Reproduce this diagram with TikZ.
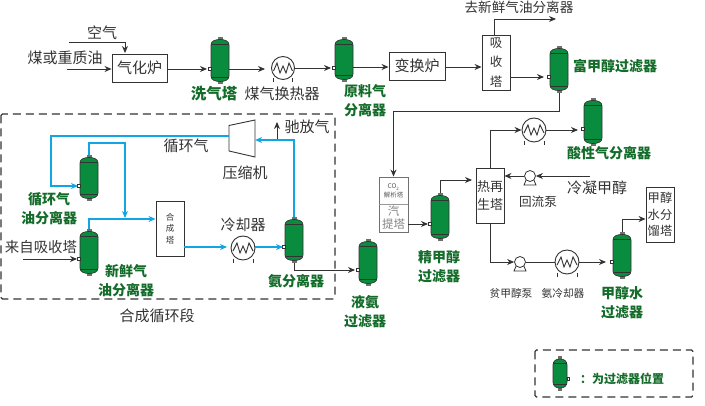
\documentclass[tikz,border=0pt]{standalone}
\usepackage{fontspec}
\setmainfont{Noto Sans CJK SC}
\usetikzlibrary{arrows.meta,calc}
\definecolor{ink}{HTML}{333333}
\definecolor{vgreen}{HTML}{0A8C3E}
\definecolor{lgreen}{HTML}{146C2A}
\definecolor{flow}{HTML}{12A5E4}
\tikzset{x=1pt,y=-1pt,
 flowk/.style={draw=ink,line width=0.9pt,-{Stealth[length=7pt,width=6pt]}},
 flowb/.style={draw=flow,line width=1.1pt,-{Stealth[length=7pt,width=6pt]}},
 boxn/.style={draw=ink,line width=0.9pt,fill=white,inner sep=0pt,align=center,font=\fontsize{15}{17}\selectfont,text=ink},
 txt/.style={inner sep=0pt,text=ink,font=\fontsize{15}{18}\selectfont,align=center},
 smalltxt/.style={inner sep=0pt,text=ink,font=\fontsize{10.7}{15}\selectfont,align=center},
 lab/.style={inner sep=0pt,text=lgreen,font=\fontsize{14}{19}\selectfont\bfseries,align=center},
 frame/.style={draw=ink,line width=1.1pt,dash pattern=on 8pt off 5pt,rounded corners=1.5pt}}
% name, x centre, y top, y bottom
\newcommand\vessel[4]{%
 \fill[ink!70] (#2-2.5,#3) rectangle (#2+2.5,#3+4);
 \fill[ink!70] (#2-2.5,#4-4) rectangle (#2+2.5,#4);
 \draw[draw=ink,line width=0.7pt,fill=vgreen]
   (#2-9,#3+8) .. controls (#2-9,#3+4) and (#2-5,#3+2.5) .. (#2,#3+2.5)
   .. controls (#2+5,#3+2.5) and (#2+9,#3+4) .. (#2+9,#3+8)
   -- (#2+9,#4-8) .. controls (#2+9,#4-4) and (#2+5,#4-2.5) .. (#2,#4-2.5)
   .. controls (#2-5,#4-2.5) and (#2-9,#4-4) .. (#2-9,#4-8) -- cycle;
 \draw[ink,line width=0.5pt] (#2-9,#3+7) -- (#2+9,#3+7) (#2-9,#4-7) -- (#2+9,#4-7);
 \node[inner sep=0pt,minimum width=18pt,minimum height=#4-#3] (#1) at (#2,{(#3+#4)/2}) {};
}
\newcommand\nozzle[2]{\draw[ink,line width=0.7pt,fill=white] (#1-11.5,#2-1.5) rectangle (#1-9,#2+1.5);}
% name, x, y, radius
\newcommand\exch[4]{%
 \node[circle,draw=ink,line width=0.9pt,fill=white,inner sep=0pt,minimum size=2*#4] (#1) at (#2,#3) {};
 \draw[ink,line width=0.9pt] (#2-#4+2,#3+#4-1) -- (#2-#4+2,#3+#4+3) (#2+#4-2,#3+#4-1) -- (#2+#4-2,#3+#4+3);
 \draw[ink,line width=0.9pt] (#2-#4+2,#3+3) -- (#2-6,#3-5) -- (#2-3,#3+5) -- (#2,#3-2) -- (#2+3,#3+5) -- (#2+6,#3-5) -- (#2+#4-2,#3+3);
}
\newcommand\pump[3]{%
 \draw[ink,line width=0.8pt,fill=white] (#2-6,#3+9) -- (#2-3,#3+2) -- (#2+3,#3+2) -- (#2+6,#3+9) -- cycle;
 \node[circle,draw=ink,line width=0.8pt,fill=white,inner sep=0pt,minimum size=11pt] (#1) at (#2,#3) {};
}
\begin{document}
\begin{tikzpicture}
\useasboundingbox (0,0) rectangle (705,406);
% frames
\draw[frame] (1,114) rectangle (335,299);
\draw[frame] (535,350) rectangle (693,397);
% vessels
\vessel{vx}{220}{37}{84}\nozzle{220}{69}
\vessel{vy}{344}{37}{82}\nozzle{344}{68}
\vessel{vf}{559}{46}{93}\nozzle{559}{77}
\vessel{vs}{593}{98}{146}\nozzle{593}{129}
\vessel{vj}{440}{193}{241}\nozzle{440}{224}
\vessel{vw}{622}{232}{279}\nozzle{622}{262}
\vessel{vl}{368}{239}{286}\nozzle{368}{270}
\vessel{vc}{89}{155}{201}\nozzle{89}{186}
\vessel{vn}{89}{229}{276}\nozzle{89}{259}
\vessel{va}{294}{217}{263}\nozzle{294}{247}
% legend vessel
\fill[ink!70] (558,356) rectangle (562,391);
\draw[ink,line width=0.7pt,fill=vgreen] (553,365) .. controls (553,361) and (556,359) .. (560,359) .. controls (564,359) and (567,361) .. (567,365) -- (567,382) .. controls (567,386) and (564,388) .. (560,388) .. controls (556,388) and (553,386) .. (553,382) -- cycle;
\draw[ink,line width=0.5pt] (553,363) -- (567,363) (553,384) -- (567,384);
\draw[ink,line width=0.7pt,fill=white] (567,377.5) rectangle (569,380.5);
\node[inner sep=0pt,minimum width=14pt,minimum height=35pt] (vleg) at (560,373.5) {};
% boxes
\node[boxn,minimum width=55pt,minimum height=28pt] (qh) at (139.5,68) {气化炉};
\node[boxn,minimum width=56pt,minimum height=28pt] (bh) at (417,66) {变换炉};
\node[boxn,minimum width=28pt,minimum height=55pt,font=\fontsize{12.5}{19.5}\selectfont] (xs) at (496,62.5) {吸\\收\\塔};
\node[boxn,minimum width=28pt,minimum height=55pt,font=\fontsize{8.5}{11.5}\selectfont] (hc) at (170,228.5) {合\\成\\塔};
\node[boxn,minimum width=28pt,minimum height=55pt,font=\fontsize{13}{18}\selectfont] (rz) at (490,195.5) {热再\\生塔};
\node[boxn,minimum width=28pt,minimum height=55pt,font=\fontsize{12.3}{16.5}\selectfont] (fl) at (660,214.5) {甲醇\\水分\\馏塔};
\node[draw=ink!70,line width=0.9pt,fill=white,inner sep=0pt,minimum width=29pt,minimum height=55pt] (co) at (393.5,204.5) {};
\draw[ink!50,line width=0.5pt] (co.west |- 0,204) -- (co.east |- 0,204);
\node[inner sep=0pt,text=ink!80,font=\fontsize{6.5}{8.5}\selectfont,align=center] (cot) at (393.5,191) {CO\textsubscript{2}\\解析塔};
\node[inner sep=0pt,text=ink!60,font=\fontsize{11.5}{13}\selectfont,align=center] (cob) at (393.5,218) {汽\\提塔};
% compressor
\draw[ink,line width=0.9pt,fill=white] (229,125.5) -- (255,120) -- (255,157) -- (229,151) -- cycle;
\node[inner sep=0pt,minimum width=26pt,minimum height=37pt] (ys) at (242,138.5) {};
% exchangers and pumps
\exch{h1}{283}{68}{11.5}
\exch{h2}{534}{130}{12}
\exch{h3}{567}{262}{12}
\exch{h4}{243}{248}{12}
\pump{p1}{530}{176}
\pump{p2}{520}{262}
% free ends
\coordinate (air) at (69,42);
\coordinate (coal) at (67,69);
\coordinate (fresh) at (23,259);
\coordinate (cond) at (590,176);
\coordinate (togo) at (556,19);
\coordinate (purge) at (277,122);
% black connectors
\draw[flowk] (air) -| (125,53);
\draw[flowk] (coal) -- (coal -| qh.west);
\draw[flowk] (qh.east |- 0,69) -- (207,69);
\draw[flowk] (vx.east |- 0,69) -- (265,69);
\draw[flowk] (h1.east) -- (331,68);
\draw[flowk] (vy.east |- 0,67) -- (bh.west |- 0,67);
\draw[flowk] (bh.east |- 0,67) -- (xs.west |- 0,67);
\draw[flowk] (xs.north -| 494,0) |- (togo);
\draw[flowk] (xs.east |- 0,77) -- (544,77);
\draw[flowk] (vf.south) -- (559,111) -| (co.north);
\draw[flowk] (co.east |- 0,224) -- (428,224);
\draw[flowk] (vj.north) |- (472,180);
\draw[flowk] (rz.north) |- (h2.west);
\draw[flowk] (h2.east) -- (578,130);
\draw[flowk] (cond) -- (p1.east);
\draw[flowk] (p1.west) -- (rz.east |- p1.west);
\draw[flowk] (rz.south) |- (p2.west);
\draw[ink,line width=0.9pt] (p2.east) -- (h3.west);
\draw[flowk] (h3.east) -- (606,262);
\draw[flowk] (vw.north) |- (fl.west |- 0,219);
\draw[flowk] (va.south) |- (355,270);
\draw[flowk] (fresh) -- (77,259);
\draw[flowk] (277,140) -- (purge);
% blue connectors
\draw[flowb] (va.north) |- (ys.east |- 0,140);
\draw[flowb] (ys.west |- 0,136) -- (51,136) |- (78,186);
\draw[flowb] (vc.north) |- (125,143) -- (125,218);
\draw[flowb] (vn.north) |- (hc.west |- 0,219);
\draw[flowb] (hc.east |- 0,247) -- (227,247);
\draw[flowb] (h4.east |- 0,247) -- (283,247);
% plain text
\node[txt] (t1) at (102,33) {空气};
\node[txt] (t2) at (65,58) {煤或重质油};
\node[txt] (t3) at (282,94) {煤气换热器};
\node[txt,font=\fontsize{13.6}{16}\selectfont] (t4) at (519,7) {去新鲜气油分离器};
\node[txt] (t5) at (307,127) {驰放气};
\node[txt] (t6) at (186,146) {循环气};
\node[txt] (t7) at (245,173) {压缩机};
\node[txt] (t8) at (243,225) {冷却器};
\node[txt,font=\fontsize{14.4}{16}\selectfont] (t9) at (41,247) {来自吸收塔};
\node[txt] (t10) at (157,316) {合成循环段};
\node[txt] (t11) at (597,188) {冷凝甲醇};
\node[smalltxt,font=\fontsize{12.6}{15}\selectfont] (t12) at (538,202) {回流泵};
\node[smalltxt] (t13) at (511,293) {贫甲醇泵};
\node[smalltxt] (t14) at (563,293) {氨冷却器};
% green labels
\node[lab,font=\fontsize{15.5}{19}\selectfont\bfseries] (l1) at (214,94) {洗气塔};
\node[lab] (l2) at (365,101) {原料气\\分离器};
\node[lab] (l3) at (615,66) {富甲醇过滤器};
\node[lab] (l4) at (609,153) {酸性气分离器};
\node[lab] (l5) at (439,267) {精甲醇\\过滤器};
\node[lab] (l6) at (622,302.5) {甲醇水\\过滤器};
\node[lab] (l7) at (365,311.5) {液氨\\过滤器};
\node[lab] (l8) at (49,209) {循环气\\油分离器};
\node[lab] (l9) at (126,281) {新鲜气\\油分离器};
\node[lab] (l10) at (296,281) {氨分离器};
\node[lab,font=\fontsize{12}{15}\selectfont\bfseries] (l11) at (622,379) {：为过滤器位置};
\end{tikzpicture}
\end{document}
